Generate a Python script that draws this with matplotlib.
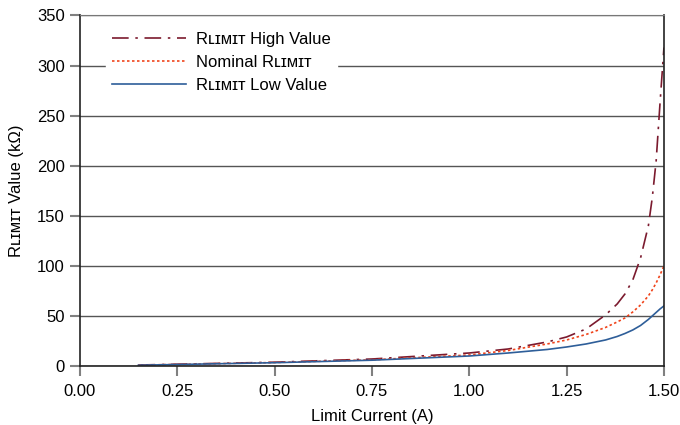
import matplotlib
matplotlib.use("Agg")
import matplotlib.pyplot as plt

plt.rcParams['font.family'] = ['Liberation Sans', 'DejaVu Sans']

current = [0.15, 0.25, 0.50, 0.75, 1.00, 1.10, 1.20, 1.25, 1.30, 1.35, 1.38, 1.40,
           1.42, 1.44, 1.46, 1.47, 1.48, 1.49, 1.50]
r_high = [1.0, 1.8, 3.8, 7.0, 13.0, 17.0, 24.0, 29.0, 37.0, 51.0, 62.0, 72.0,
          86.0, 108.0, 140.0, 168.0, 205.0, 263.0, 318.0]
r_nom = [0.9, 1.6, 3.5, 6.2, 11.0, 15.5, 22.0, 26.0, 31.5, 38.5, 44.0, 48.0,
         54.0, 61.0, 70.0, 76.0, 83.0, 91.0, 100.0]
r_low = [0.8, 1.5, 3.3, 5.8, 10.0, 13.0, 16.5, 19.0, 22.0, 26.0, 29.5, 32.5,
         36.0, 40.5, 46.5, 50.0, 53.5, 57.0, 60.0]

sc = "ʟɪᴍɪᴛ"
labels = [f"R{sc} High Value", f"Nominal R{sc}", f"R{sc} Low Value"]
x_ticks = [0.00, 0.25, 0.50, 0.75, 1.00, 1.25, 1.50]
y_ticks = [0, 50, 100, 150, 200, 250, 300, 350]

fig = plt.figure(figsize=(6.8, 4.25), dpi=100)
ax = fig.add_axes([0.1176, 0.1388, 0.8588, 0.8248])

ax.plot(current, r_high, color='#7B1A2E', lw=1.2, linestyle=(0, (10, 4, 1.5, 4)), label=labels[0])
ax.plot(current, r_nom, color='#F0441B', lw=1.2, linestyle=(0, (1.5, 1.5)), label=labels[1])
ax.plot(current, r_low, color='#2E5E99', lw=1.2, linestyle='-', label=labels[2])

ax.set_xlim(0, 1.5)
ax.set_ylim(0, 350)
ax.set_xticks(x_ticks)
ax.set_xticklabels([f"{v:.2f}" for v in x_ticks])
ax.set_yticks(y_ticks)
ax.yaxis.grid(True, color='#555555', lw=1.0)
ax.set_axisbelow(True)
ax.tick_params(axis='both', direction='out', length=7, color='#808080', labelsize=12, width=1.5)
ax.tick_params(axis='x', pad=6)
ax.tick_params(axis='y', pad=4)
for s in ['left', 'bottom', 'right']:
    ax.spines[s].set_color('#222222')
    ax.spines[s].set_linewidth(1.2)
ax.spines['top'].set_color('#777777')

ax.set_xlabel('Limit Current (A)', fontsize=12, labelpad=7)
ax.set_ylabel(f'R{sc} Value (kΩ)', fontsize=12, labelpad=9)

leg = ax.legend(loc='upper left', bbox_to_anchor=(0.03, 0.995), frameon=True, fontsize=12,
                handlelength=4.4, handletextpad=0.6, labelspacing=0.48, borderpad=0.4,
                borderaxespad=0.5, fancybox=False)
leg.get_frame().set_edgecolor('white')
leg.get_frame().set_facecolor('white')
leg.get_frame().set_alpha(1.0)

fig.savefig('out.png', dpi=100)
